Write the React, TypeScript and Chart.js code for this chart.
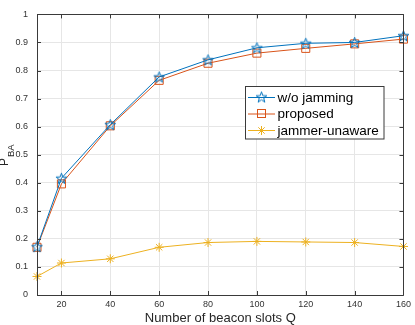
import React, { useEffect, useRef } from "react";
import { Chart, registerables } from "chart.js";

Chart.register(...registerables);

const slots = [10, 20, 40, 60, 80, 100, 120, 140, 160];
const woJamming = [0.172, 0.416, 0.607, 0.777, 0.838, 0.881, 0.897, 0.9, 0.924];
const proposed = [0.17, 0.396, 0.603, 0.765, 0.826, 0.862, 0.879, 0.895, 0.912];
const jammerUnaware = [0.066, 0.114, 0.129, 0.17, 0.187, 0.191, 0.189, 0.187, 0.173];
const xTicks = [20, 40, 60, 80, 100, 120, 140, 160];
const seriesLabels = ["w/o jamming", "proposed", "jammer-unaware"];
const xTitle = "Number of beacon slots Q";

const BLUE = "#0072BD";
const ORANGE = "#D95319";
const YELLOW = "#EDB120";
const FONT = "'Liberation Sans', Arial, Helvetica, sans-serif";

function makePentagram(color: string, size: number) {
  const c = document.createElement("canvas");
  c.width = size;
  c.height = size;
  const ctx = c.getContext("2d")!;
  const cx = size / 2;
  const cy = size / 2 + 0.5;
  const R = size / 2 - 0.8;
  const r = R * 0.4;
  ctx.beginPath();
  for (let i = 0; i < 10; i++) {
    const rad = i % 2 === 0 ? R : r;
    const a = -Math.PI / 2 + (i * Math.PI) / 5;
    const x = cx + rad * Math.cos(a);
    const y = cy + rad * Math.sin(a);
    if (i === 0) ctx.moveTo(x, y);
    else ctx.lineTo(x, y);
  }
  ctx.closePath();
  ctx.strokeStyle = color;
  ctx.lineWidth = 1;
  ctx.stroke();
  return c;
}

export default function App() {
  const ref = useRef<HTMLCanvasElement>(null);

  useEffect(() => {
    const star = makePentagram(BLUE, 13);

    const framePlugin = {
      id: "frame",
      afterDraw(chart: any) {
        const { ctx, chartArea } = chart;
        const { left, right, top, bottom } = chartArea;
        const xs = chart.scales.x;
        const ys = chart.scales.y;
        ctx.save();
        ctx.strokeStyle = "#3a3a3a";
        ctx.lineWidth = 1;
        ctx.beginPath();
        ctx.rect(Math.round(left) + 0.5, Math.round(top) + 0.5, Math.round(right - left), Math.round(bottom - top));
        ctx.stroke();
        const tl = 4;
        ctx.beginPath();
        for (const v of xTicks) {
          const px = Math.round(xs.getPixelForValue(v)) + 0.5;
          ctx.moveTo(px, bottom);
          ctx.lineTo(px, bottom - tl);
          ctx.moveTo(px, top);
          ctx.lineTo(px, top + tl);
        }
        for (let i = 0; i <= 10; i++) {
          const py = Math.round(ys.getPixelForValue(i / 10)) + 0.5;
          ctx.moveTo(left, py);
          ctx.lineTo(left + tl, py);
          ctx.moveTo(right, py);
          ctx.lineTo(right - tl, py);
        }
        ctx.stroke();

        // axis titles
        ctx.fillStyle = "#262626";
        ctx.font = `13px ${FONT}`;
        ctx.textAlign = "center";
        ctx.textBaseline = "alphabetic";
        ctx.fillText(xTitle, (left + right) / 2, 322);

        ctx.save();
        ctx.translate(8, (top + bottom) / 2);
        ctx.rotate(-Math.PI / 2);
        ctx.textAlign = "left";
        ctx.font = `12px ${FONT}`;
        const pw = ctx.measureText("P").width;
        ctx.font = `9.5px ${FONT}`;
        const bw = ctx.measureText("BA").width;
        const total = pw + bw;
        ctx.font = `12px ${FONT}`;
        ctx.fillText("P", -total / 2 - 1, 0);
        ctx.font = `9.5px ${FONT}`;
        ctx.fillText("BA", -total / 2 + pw, 6);
        ctx.restore();

        // legend
        const bx = 245.5, by = 86.5, bw2 = 138.5, bh = 52.5;
        ctx.fillStyle = "#ffffff";
        ctx.fillRect(bx, by, bw2, bh);
        ctx.strokeStyle = "#3a3a3a";
        ctx.strokeRect(bx, by, bw2, bh);
        const rows = [97, 113.5, 130];
        const colors = [BLUE, ORANGE, YELLOW];
        ctx.font = `13.5px ${FONT}`;
        ctx.textBaseline = "middle";
        ctx.textAlign = "left";
        for (let i = 0; i < 3; i++) {
          const y = rows[i];
          ctx.strokeStyle = colors[i];
          ctx.lineWidth = 1;
          ctx.beginPath();
          ctx.moveTo(248, y + 0.5);
          ctx.lineTo(275, y + 0.5);
          ctx.stroke();
          const cx = 261.5;
          if (i === 0) {
            ctx.drawImage(star, cx - 6.5, y - 6.5);
          } else if (i === 1) {
            ctx.strokeRect(cx - 4, y - 4, 8, 8);
          } else {
            ctx.beginPath();
            const r = 4.5;
            for (let k = 0; k < 4; k++) {
              const a = (k * Math.PI) / 4;
              ctx.moveTo(cx - r * Math.cos(a), y + 0.5 - r * Math.sin(a));
              ctx.lineTo(cx + r * Math.cos(a), y + 0.5 + r * Math.sin(a));
            }
            ctx.stroke();
          }
          ctx.fillStyle = "#000000";
          ctx.fillText(seriesLabels[i], 277.5, y + 1);
        }
        ctx.restore();
      },
    };

    const chart = new Chart(ref.current!, {
      type: "line",
      data: {
        labels: slots,
        datasets: [
          {
            label: seriesLabels[0],
            data: slots.map((x, i) => ({ x, y: woJamming[i] })),
            borderColor: BLUE,
            borderWidth: 1,
            pointStyle: star as any,
            pointRadius: 6,
            pointBorderColor: BLUE,
            pointBackgroundColor: "transparent",
            clip: false as any,
            order: 0,
          },
          {
            label: seriesLabels[1],
            data: slots.map((x, i) => ({ x, y: proposed[i] })),
            borderColor: ORANGE,
            borderWidth: 1,
            pointStyle: "rect",
            pointRadius: 5.7,
            pointBorderWidth: 1,
            pointBorderColor: ORANGE,
            pointBackgroundColor: "transparent",
            clip: false as any,
            order: 1,
          },
          {
            label: seriesLabels[2],
            data: slots.map((x, i) => ({ x, y: jammerUnaware[i] })),
            borderColor: YELLOW,
            borderWidth: 1,
            pointStyle: "star",
            pointRadius: 4.5,
            pointBorderWidth: 1,
            pointBorderColor: YELLOW,
            pointBackgroundColor: "transparent",
            clip: false as any,
            order: 2,
          },
        ],
      },
      options: {
        animation: false,
        responsive: false,
        layout: { padding: { top: 3.5, right: 8, left: 0, bottom: 0 } },
        plugins: { legend: { display: false }, tooltip: { enabled: false } },
        elements: { line: { tension: 0 } },
        scales: {
          x: {
            type: "linear",
            min: 10,
            max: 160,
            afterBuildTicks: (axis: any) => {
              axis.ticks = xTicks.map((v) => ({ value: v }));
            },
            afterFit: (axis: any) => {
              axis.height = 30;
            },
            grid: { color: "#e6e6e6", drawTicks: false },
            border: { display: false },
            ticks: {
              padding: 4,
              maxRotation: 0,
              autoSkip: false,
              color: "#333333",
              font: { family: FONT, size: 9 },
            },
          },
          y: {
            type: "linear",
            min: 0,
            max: 1,
            afterFit: (axis: any) => {
              axis.width = 37;
            },
            grid: { color: "#e6e6e6", drawTicks: false },
            border: { display: false },
            ticks: {
              stepSize: 0.1,
              padding: 9,
              color: "#333333",
              font: { family: FONT, size: 9 },
              callback: (v: any) => String(Number(Number(v).toFixed(1))),
            },
          },
        },
      },
      plugins: [framePlugin],
    });
    return () => chart.destroy();
  }, []);

  return (
    <div style={{ position: "fixed", left: 0, top: 0, width: 415, height: 325, background: "#fff" }}>
      <canvas ref={ref} width={415} height={325} />
    </div>
  );
}
